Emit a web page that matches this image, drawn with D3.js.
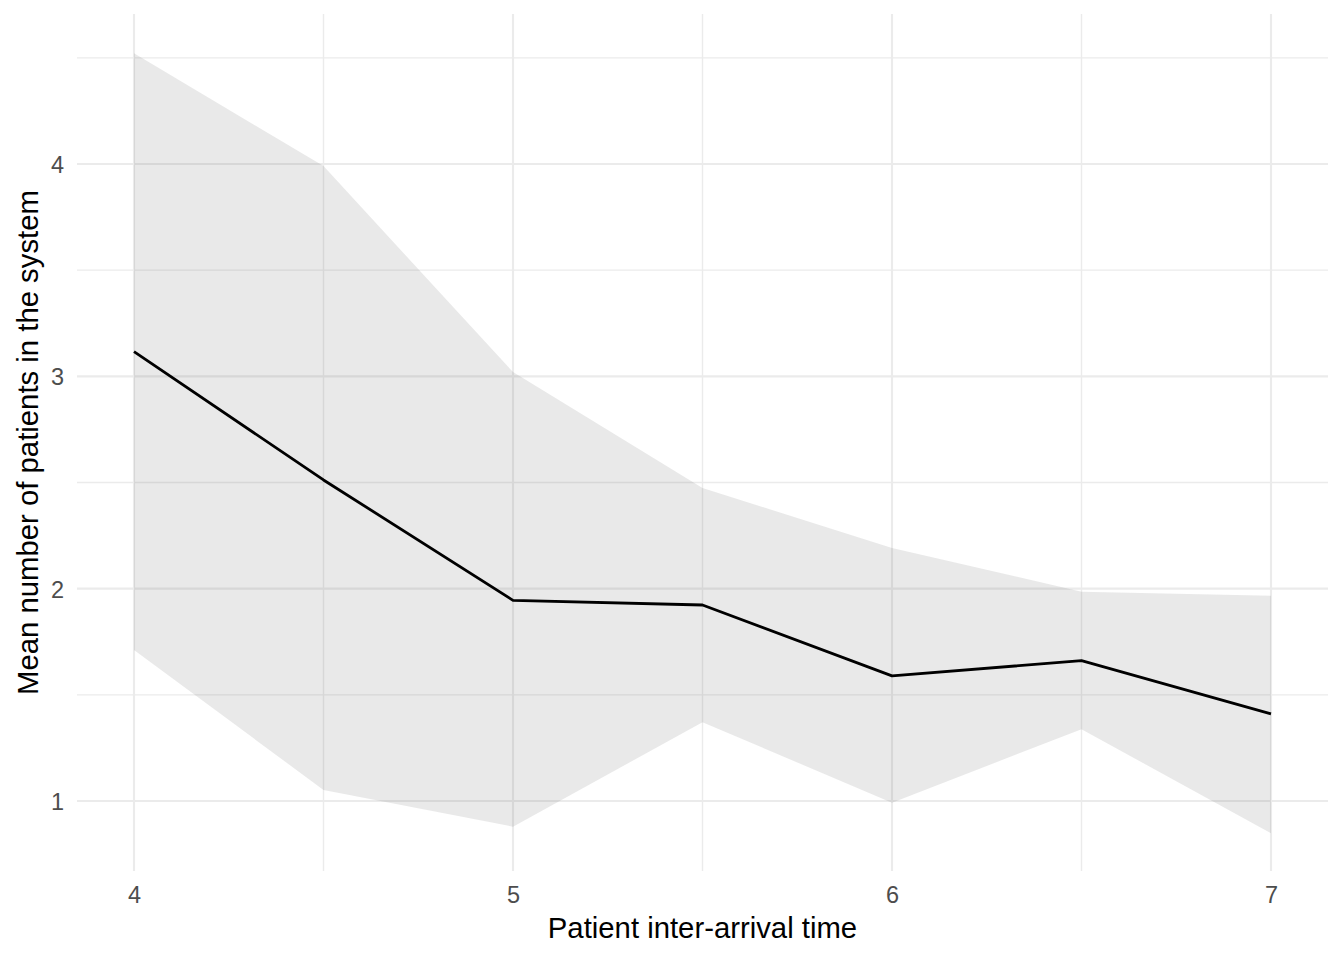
<!DOCTYPE html>
<html>
<head>
<meta charset="utf-8">
<script src="https://cdn.jsdelivr.net/npm/d3@7/dist/d3.min.js"></script>
<style>
  html, body { margin: 0; padding: 0; background: #fff; }
  text { font-family: "Liberation Sans", Arial, Helvetica, sans-serif; }
</style>
</head>
<body>
<svg id="chart" width="1344" height="960"></svg>
<script>
// ---- data ----
const interArrival = [4, 4.5, 5, 5.5, 6, 6.5, 7];
const meanPatients = [3.116, 2.512, 1.945, 1.923, 1.589, 1.661, 1.410];
const lowerBound   = [1.711, 1.052, 0.879, 1.371, 0.992, 1.338, 0.848];
const upperBound   = [4.521, 3.990, 3.020, 2.474, 2.192, 1.986, 1.967];
const xMajorTicks = [4, 5, 6, 7];
const xMinorTicks = [4.5, 5.5, 6.5];
const yMajorTicks = [1, 2, 3, 4];
const yMinorTicks = [1.5, 2.5, 3.5, 4.5];
const xTitle = "Patient inter-arrival time";
const yTitle = "Mean number of patients in the system";

const rows = interArrival.map((x, i) => ({x, mean: meanPatients[i], lo: lowerBound[i], hi: upperBound[i]}));

const svg = d3.select("#chart");
const panel = {left: 77, right: 1328, top: 14, bottom: 871};

const x = d3.scaleLinear().domain([4, 7]).range([134, 1271]);
const y = d3.scaleLinear().domain([1, 4]).range([801, 164]);

const grid = svg.append("g");
// minor grid
grid.selectAll(".hmin").data(yMinorTicks).join("line")
  .attr("x1", panel.left).attr("x2", panel.right)
  .attr("y1", d => y(d)).attr("y2", d => y(d))
  .attr("stroke", "#ebebeb").attr("stroke-width", 1.4);
grid.selectAll(".vmin").data(xMinorTicks).join("line")
  .attr("y1", panel.top).attr("y2", panel.bottom)
  .attr("x1", d => x(d)).attr("x2", d => x(d))
  .attr("stroke", "#ebebeb").attr("stroke-width", 1.4);
// major grid
grid.selectAll(".hmaj").data(yMajorTicks).join("line")
  .attr("x1", panel.left).attr("x2", panel.right)
  .attr("y1", d => y(d)).attr("y2", d => y(d))
  .attr("stroke", "#ebebeb").attr("stroke-width", 2.1);
grid.selectAll(".vmaj").data(xMajorTicks).join("line")
  .attr("y1", panel.top).attr("y2", panel.bottom)
  .attr("x1", d => x(d)).attr("x2", d => x(d))
  .attr("stroke", "#ebebeb").attr("stroke-width", 2.1);

// ribbon
const area = d3.area().x(d => x(d.x)).y0(d => y(d.lo)).y1(d => y(d.hi));
svg.append("path").datum(rows)
  .attr("d", area)
  .attr("fill", "#333333").attr("fill-opacity", 0.105);

// line
const line = d3.line().x(d => x(d.x)).y(d => y(d.mean));
svg.append("path").datum(rows)
  .attr("d", line)
  .attr("fill", "none").attr("stroke", "#000").attr("stroke-width", 2.8)
  .attr("stroke-linejoin", "round");

// axes (text only, theme_minimal)
const xAxis = d3.axisBottom(x).tickValues(xMajorTicks).tickSize(0).tickPadding(0).tickFormat(d3.format("d"));
const gx = svg.append("g").attr("transform", `translate(0, 886)`).call(xAxis);
gx.select(".domain").remove();
gx.selectAll("text").attr("fill", "#4d4d4d").attr("font-size", 23.5)
  .attr("dy", null).attr("y", 17).attr("font-family", "Liberation Sans, Arial, sans-serif");

const yAxis = d3.axisLeft(y).tickValues(yMajorTicks).tickSize(0).tickPadding(0).tickFormat(d3.format("d"));
const gy = svg.append("g").attr("transform", `translate(64, 0)`).call(yAxis);
gy.select(".domain").remove();
gy.selectAll("text").attr("fill", "#4d4d4d").attr("font-size", 23.5)
  .attr("dy", "0.36em").attr("x", 0).attr("font-family", "Liberation Sans, Arial, sans-serif");

// titles
svg.append("text").attr("x", (panel.left + panel.right) / 2).attr("y", 938)
  .attr("text-anchor", "middle").attr("font-size", 29.3).attr("fill", "#000")
  .text(xTitle);
svg.append("text")
  .attr("transform", `translate(38, ${(panel.top + panel.bottom) / 2}) rotate(-90)`)
  .attr("text-anchor", "middle").attr("font-size", 29.3).attr("fill", "#000")
  .text(yTitle);
</script>
</body>
</html>
